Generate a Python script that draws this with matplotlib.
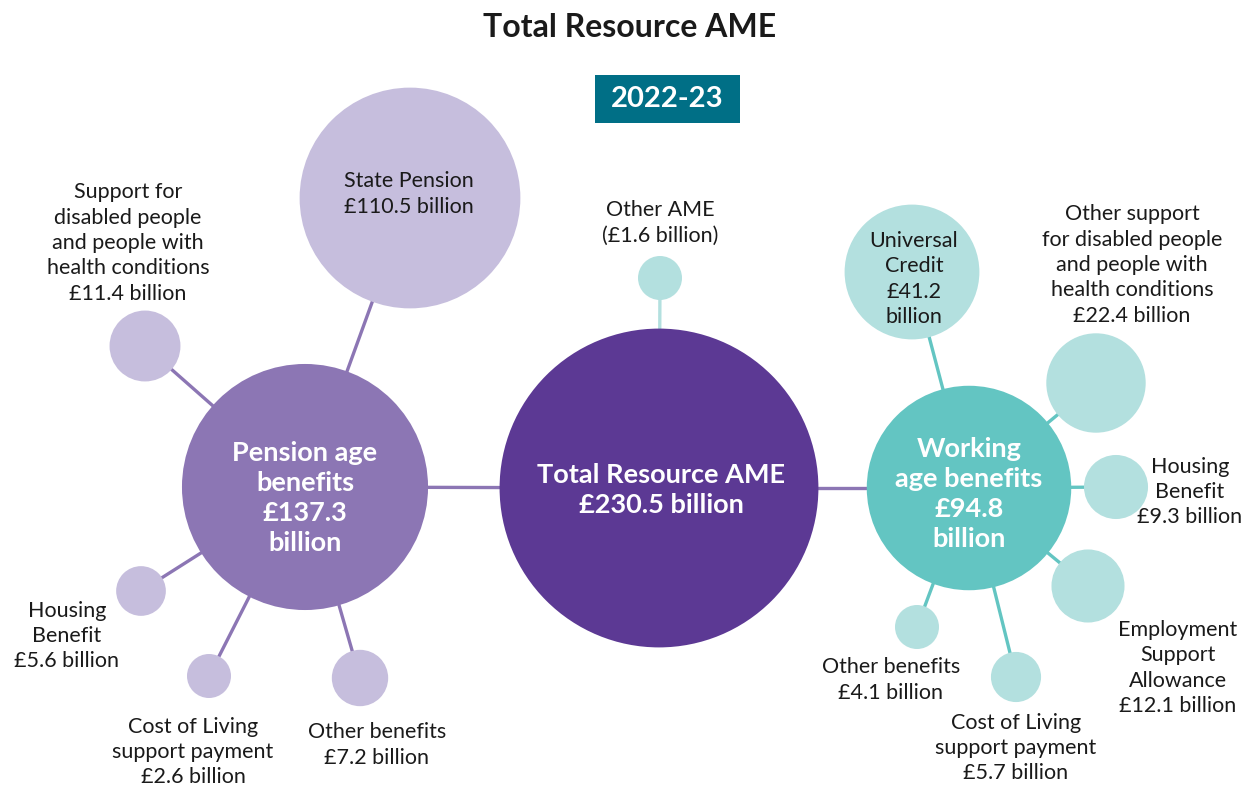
import matplotlib.pyplot as plt
from matplotlib.patches import Circle, Rectangle
import numpy as np

plt.rcParams['font.family'] = ['Lato', 'DejaVu Sans']

# data
title = "Total Resource AME"
year = "2022-23"
total_name = "Total Resource AME"
total_value = 230.5
other_ame_name = "Other AME"
other_ame_value = 1.6

pension_name = "Pension age\nbenefits"
pension_value = 137.3
pension_items = ["State Pension",
                 "Support for\ndisabled people\nand people with\nhealth conditions",
                 "Housing\nBenefit",
                 "Cost of Living\nsupport payment",
                 "Other benefits"]
pension_values = [110.5, 11.4, 5.6, 2.6, 7.2]

working_name = "Working\nage benefits"
working_value = 94.8
working_items = ["Universal\nCredit",
                 "Other support\nfor disabled people\nand people with\nhealth conditions",
                 "Housing\nBenefit",
                 "Employment\nSupport\nAllowance",
                 "Cost of Living\nsupport payment",
                 "Other benefits"]
working_values = [41.2, 22.4, 9.3, 12.1, 5.7, 4.1]

# layout (pixel space)
total_xy = (659, 488)
other_ame_xy = (660, 278)
pension_xy = (305, 487)
pension_item_xy = [(410, 198), (145, 346), (141, 591), (209, 676), (360, 678)]
working_xy = (969, 488)
working_item_xy = [(912, 272), (1096, 383), (1116, 487), (1088, 586), (1016, 677), (917, 627)]

# label anchors for the outside labels
pension_label_xy = [(409, 194), (128, 243), (67, 636), (193, 752), (377, 745)]
working_label_xy = [(914, 279), (1132, 265), (1190, 492), (1178, 668), (1016, 748), (891, 680)]

c_total = "#5c3994"
c_pension = "#8c76b4"
c_pension_light = "#c6bedd"
c_working = "#63c5c2"
c_working_light = "#b3e0df"
c_year = "#006f86"
c_text = "#1a1a1a"

K = 10.5
RMIN = 22


def radius(v):
    return max(K * np.sqrt(v), RMIN)


fig = plt.figure(figsize=(12.53, 7.88), dpi=100)
ax = fig.add_axes([0, 0, 1, 1])
ax.set_xlim(0, 1253)
ax.set_ylim(788, 0)
ax.axis('off')


def spoke(a, b, color):
    ax.plot([a[0], b[0]], [a[1], b[1]], color=color, lw=2.4, zorder=1,
            solid_capstyle='butt')


def bubble(xy, v, color):
    ax.add_patch(Circle(xy, radius(v), facecolor=color, edgecolor='none', zorder=2))


# spokes
spoke(total_xy, pension_xy, c_pension)
spoke(total_xy, working_xy, c_pension)
spoke(total_xy, other_ame_xy, c_working_light)
for xy in pension_item_xy:
    spoke(pension_xy, xy, c_pension)
for xy in working_item_xy:
    spoke(working_xy, xy, c_working)

# bubbles
bubble(total_xy, total_value, c_total)
bubble(other_ame_xy, other_ame_value, c_working_light)
bubble(pension_xy, pension_value, c_pension)
bubble(working_xy, working_value, c_working)
for xy, v in zip(pension_item_xy, pension_values):
    bubble(xy, v, c_pension_light)
for xy, v in zip(working_item_xy, working_values):
    bubble(xy, v, c_working_light)

# big labels
big = dict(ha='center', va='center', color='white', fontsize=19.5,
           fontweight='bold', linespacing=1.3, zorder=3)
ax.text(total_xy[0] + 2, total_xy[1] + 2, f"{total_name}\n£{total_value} billion", **big)
ax.text(pension_xy[0], pension_xy[1] + 11, f"{pension_name}\n£{pension_value}\nbillion", **big)
ax.text(working_xy[0], working_xy[1] + 6, f"{working_name}\n£{working_value}\nbillion", **big)

# small labels
small = dict(ha='center', va='center', color=c_text, fontsize=15.5,
             linespacing=1.33, zorder=3)
ax.text(660, 223, f"{other_ame_name}\n(£{other_ame_value} billion)", **small)
for name, v, xy in zip(pension_items, pension_values, pension_label_xy):
    ax.text(xy[0], xy[1], f"{name}\n£{v} billion", **small)
for i, (name, v, xy) in enumerate(zip(working_items, working_values, working_label_xy)):
    sep = "\n" if i == 0 else " "
    ax.text(xy[0], xy[1], f"{name}\n£{v}{sep}billion", **small)

# title and year box
ax.text(630, 27, title, ha='center', va='center', color=c_text, fontsize=23,
        fontweight='bold')
ax.add_patch(Rectangle((595, 75), 145, 48, facecolor=c_year, edgecolor='none'))
ax.text(667, 99, year, ha='center', va='center', color='white', fontsize=21,
        fontweight='bold')

fig.savefig("out.png", dpi=100)
